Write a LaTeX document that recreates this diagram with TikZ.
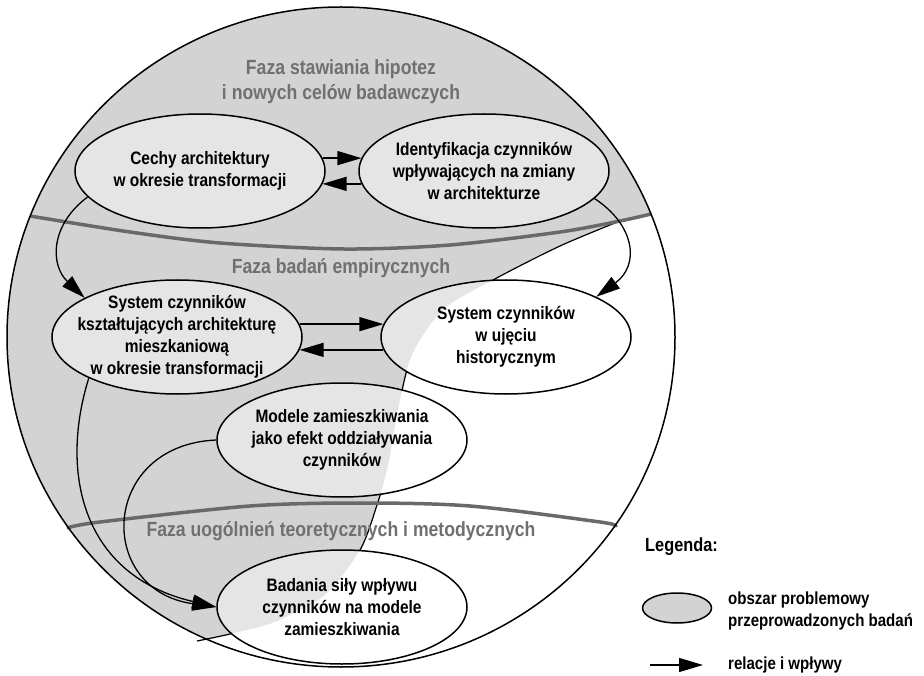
\documentclass[tikz,border=0pt]{standalone}
\usepackage{fontspec}
\setmainfont{Liberation Sans}[FakeStretch=0.86]
\usetikzlibrary{shapes.geometric,arrows.meta}
\pgfdeclarelayer{bg}
\pgfsetlayers{bg,main}
\definecolor{regiongrey}{RGB}{211,211,211}
\definecolor{ellgrey}{RGB}{229,229,229}
\definecolor{phasegrey}{RGB}{105,105,105}
\definecolor{titlegrey}{RGB}{112,112,112}
\begin{document}
\begin{tikzpicture}[x=1pt,y=-1pt,
  ellshape/.style={ellipse, draw=black, line width=1.5pt, minimum width=250pt, minimum height=114pt, inner sep=0pt},
  elltext/.style={align=center, inner sep=0pt, font=\fontsize{18}{22}\selectfont\bfseries},
  arr/.style={line width=1.3pt, -{Triangle[length=24pt,width=14pt]}},
  phaseline/.style={draw=phasegrey, line width=3.5pt},
  phasetitle/.style={text=titlegrey, align=center, inner sep=0pt, font=\fontsize{20.5}{25}\selectfont\bfseries},
  legtext/.style={align=left, anchor=west, inner sep=0pt, font=\fontsize{17.5}{22}\selectfont\bfseries},
]
\useasboundingbox (0,0) rectangle (924,676);

% ellipses
\node[ellshape] (cechy) at (200,171) {};
\node[elltext] (cechyt) at (cechy.center) {Cechy architektury\\w okresie transformacji};
\node[ellshape] (ident) at (484,171) {};
\node[elltext] (identt) at (ident.center) {Identyfikacja czynników\\wpływających na zmiany\\w architekturze};
\node[ellshape] (ksz) at (177,337) {};
\node[elltext] (kszt) at (ksz.center) {System czynników\\kształtujących architekturę\\mieszkaniową\\w okresie transformacji};
\node[ellshape] (hist) at (506,337) {};
\node[elltext] (histt) at (hist.center) {System czynników\\w ujęciu\\historycznym};
\node[ellshape] (mod) at (342,440) {};
\node[elltext] (modt) at (mod.center) {Modele zamieszkiwania\\jako efekt oddziaływania\\czynników};
\node[ellshape] (bad) at (342,607) {};
\node[elltext] (badt) at (bad.center) {Badania siły wpływu\\czynników na modele\\zamieszkiwania};

% background
\begin{pgfonlayer}{bg}
  \fill[regiongrey] (341,337) ellipse [x radius=334, y radius=330];
  \begin{scope}
    \clip (341,337) ellipse [x radius=334, y radius=330];
    \fill[white] plot[smooth] coordinates {(620,221) (560,246) (493,280) (443,310) (412,355) (398,410) (388,466) (377,505) (360,550) (325,595) (275,622) (230,634) (197,641)} -- (150,700) -- (720,700) -- (720,200) -- cycle;
  \end{scope}
  \draw[line width=1.2pt] plot[smooth] coordinates {(620,221) (560,246) (493,280) (443,310) (412,355) (398,410) (388,466) (377,505) (360,550) (325,595) (275,622) (230,634) (197,641)};
  \draw[phaseline] plot[smooth] coordinates {(30,216) (130,232) (220,243) (344,249) (450,245) (560,232) (620,221) (651,214)};
  \draw[phaseline] plot[smooth] coordinates {(67,528) (100,522) (250,506) (360,503) (470,506) (600,522) (615,526)};
  \node[phasetitle] (title1) at (341,81.5) {Faza stawiania hipotez\\i nowych celów badawczych};
  \node[phasetitle] (title2) at (341,268) {Faza badań empirycznych};
  \node[phasetitle] (title3) at (341,531) {Faza uogólnień teoretycznych i metodycznych};
  \foreach \n in {cechy,ident,ksz,hist,mod,bad}
    \fill[ellgrey] (\n.center) ellipse [x radius=125, y radius=57];
  \begin{scope}
    \clip plot[smooth] coordinates {(620,221) (560,246) (493,280) (443,310) (412,355) (398,410) (388,466) (377,505) (360,550) (325,595) (275,622) (230,634) (197,641)} -- (150,700) -- (720,700) -- (720,200) -- cycle;
    \foreach \n in {hist,mod,bad}
      \fill[white] (\n.center) ellipse [x radius=125, y radius=57];
  \end{scope}
\end{pgfonlayer}

% big circle outline
\draw[line width=1.5pt] (341,337) ellipse [x radius=334, y radius=330];

% connectors
\draw[arr] (cechy.6) -- (ident.174);
\draw[arr] (ident.186) -- (cechy.-6);
\draw[arr] (ksz.6) -- (hist.174);
\draw[arr] (hist.186) -- (ksz.-6);
\draw[arr] (cechy.193) .. controls (50,225) and (50,265) .. (ksz.157);
\draw[arr] (ident.346) .. controls (635,225) and (640,265) .. (hist.24);
\draw[arr] (ksz.205) .. controls (60,470) and (80,575) .. (bad.west);
\draw[arr] (mod.west) .. controls (100,445) and (95,590) .. (bad.west);

% legend
\node[anchor=west, inner sep=0pt, font=\fontsize{19}{22}\selectfont\bfseries] (legtitle) at (645,547) {Legenda:};
\node[ellipse, draw=black, line width=1.5pt, fill=regiongrey, minimum width=69pt, minimum height=30pt, inner sep=0pt] (legell) at (677,608) {};
\node[legtext] (legt1) at (728,611) {obszar problemowy\\przeprowadzonych badań};
\coordinate (la) at (650,665);
\coordinate (lb) at (703,665);
\draw[arr] (la) -- (lb);
\node[legtext] (legt2) at (728,665) {relacje i wpływy};
\end{tikzpicture}
\end{document}
